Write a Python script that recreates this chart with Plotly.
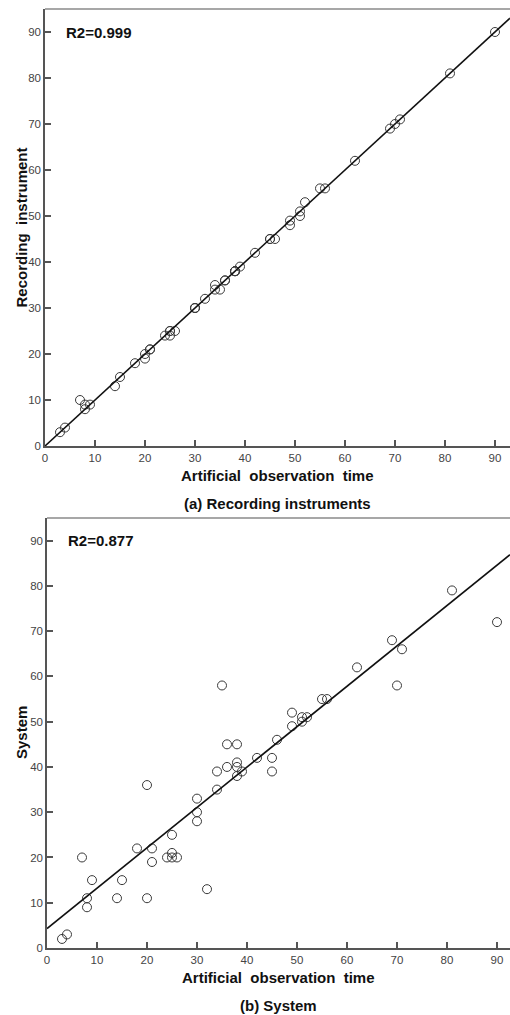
import plotly.graph_objects as go

# Data
obs_time = [3, 4, 7, 8, 8, 9, 14, 15, 18, 20, 20, 21, 21, 24, 25, 25, 25, 26, 30, 30, 30,
             32, 34, 34, 35, 36, 36, 38, 38, 38, 38, 39, 42, 45, 45, 46, 49, 49, 51, 51, 52,
             55, 56, 62, 69, 70, 71, 81, 90]
instrument = [3, 4, 10, 9, 8, 9, 13, 15, 18, 20, 19, 21, 21, 24, 25, 24, 25, 25, 30, 30, 30,
              32, 35, 34, 34, 36, 36, 38, 38, 38, 38, 39, 42, 45, 45, 45, 49, 48, 51, 50, 53,
              56, 56, 62, 69, 70, 71, 81, 90]
system = [2, 3, 20, 11, 9, 15, 11, 15, 22, 36, 11, 22, 19, 20, 25, 21, 20, 20, 33, 30, 28,
          13, 39, 35, 58, 40, 45, 45, 41, 40, 38, 39, 42, 42, 39, 46, 52, 49, 51, 50, 51,
          55, 55, 62, 68, 58, 66, 79, 72]
# fitted lines as drawn in the reference (intercept, slope)
fit_intercept = [0.0, 4.3]
fit_slope = [1.0, 0.892]
r2_labels = ["R2=0.999", "R2=0.877"]
y_titles = ["Recording  instrument", "System"]
x_title = "Artificial  observation  time"
captions = ["(a) Recording instruments", "(b) System"]
tick_vals = [0, 10, 20, 30, 40, 50, 60, 70, 80, 90]

W, H = 510, 1015
FONT = "Liberation Sans, Arial, sans-serif"
AXC = "#555555"

# panel geometry in pixels: (left, top, bottom)
panels = [(45, 9, 446), (47, 518, 948)]
x_max = [(W - p[0]) / 5.0 for p in panels]

fig = go.Figure()
series = [instrument, system]
for i, ys in enumerate(series):
    xa = "x" if i == 0 else "x2"
    ya = "y" if i == 0 else "y2"
    fig.add_trace(go.Scatter(
        x=obs_time, y=ys, mode="markers", xaxis=xa, yaxis=ya,
        marker=dict(symbol="circle-open", size=9, color="#3a3a3a", line=dict(width=1)),
        showlegend=False, hoverinfo="x+y"))
    lx = [0.0, x_max[i]]
    fig.add_trace(go.Scatter(
        x=lx, y=[fit_intercept[i] + fit_slope[i] * v for v in lx], mode="lines",
        xaxis=xa, yaxis=ya,
        line=dict(color="#111111", width=1.6), showlegend=False, hoverinfo="skip"))

layout = dict(
    width=W, height=H, margin=dict(l=0, r=0, t=0, b=0, autoexpand=False),
    paper_bgcolor="white", plot_bgcolor="white",
    font=dict(family=FONT, color="#444444", size=11),
)
annotations = []
shapes = []
for i, (left, top, bottom) in enumerate(panels):
    sfx = "" if i == 0 else "2"
    xdom = [left / W, 1.0]
    ydom = [1 - bottom / H, 1 - top / H]
    common = dict(showline=True, linecolor=AXC, linewidth=1.5, ticks="inside", ticklen=6,
                  tickcolor=AXC, tickwidth=1.5, showgrid=False, zeroline=False,
                  automargin=False,
                  tickvals=tick_vals, tickfont=dict(family=FONT, size=11.5, color="#444444"))
    layout["xaxis" + sfx] = dict(domain=xdom, range=[0, x_max[i]], anchor="y" + sfx, **common)
    layout["yaxis" + sfx] = dict(domain=ydom, range=[0, 95], anchor="x" + sfx, **common)
    # top border
    shapes.append(dict(type="line", xref="paper", yref="paper", x0=xdom[0], x1=1.0,
                       y0=ydom[1], y1=ydom[1], line=dict(color="#8a8a8a", width=1.5)))
    # R2 label
    annotations.append(dict(text="<b>%s</b>" % r2_labels[i], xref="x" + sfx, yref="y" + sfx,
                            x=3.8, y=90, xanchor="left", yanchor="middle", showarrow=False,
                            font=dict(family=FONT, size=15, color="#111111")))
    cx = (left + W) / 2 / W
    # x title
    annotations.append(dict(text="<b>%s</b>" % x_title.replace("  ", " \u00a0"),
                            xref="paper", yref="paper", x=cx, y=1 - (bottom + 29) / H,
                            xanchor="center", yanchor="middle", showarrow=False,
                            font=dict(family=FONT, size=15, color="#111111")))
    # caption
    annotations.append(dict(text="<b>%s</b>" % captions[i],
                            xref="paper", yref="paper", x=cx, y=1 - (bottom + 57) / H,
                            xanchor="center", yanchor="middle", showarrow=False,
                            font=dict(family=FONT, size=15, color="#111111")))
    # y title
    annotations.append(dict(text="<b>%s</b>" % y_titles[i].replace("  ", " \u00a0"),
                            xref="paper", yref="paper", x=21 / W, y=1 - (top + bottom) / 2 / H,
                            xanchor="center", yanchor="middle", showarrow=False, textangle=-90,
                            font=dict(family=FONT, size=15, color="#111111")))

layout["annotations"] = annotations
layout["shapes"] = shapes
fig.update_layout(**layout)
fig.write_html(
    "out.html",
    config={"displayModeBar": False},
    post_script="document.body.style.margin='0';document.body.style.overflow='hidden';",
)
